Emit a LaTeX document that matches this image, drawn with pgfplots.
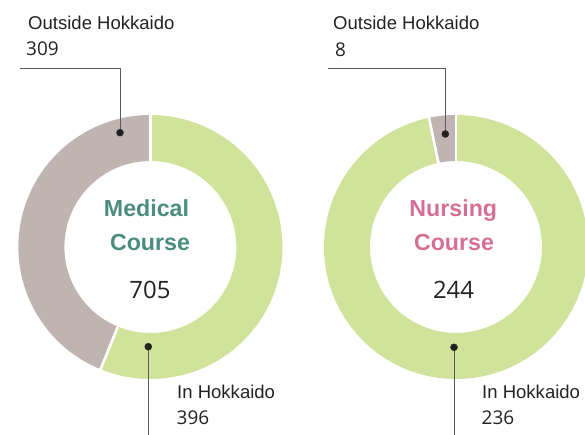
\documentclass[border=0pt]{standalone}
\usepackage{pgfplots}
\pgfplotsset{compat=1.18}
\usetikzlibrary{calc}
\usepackage{fontspec}
\setmainfont{Liberation Sans}
\newfontfamily\labfont{Liberation Sans}
\newfontfamily\numfont{Open Sans}
\definecolor{ringgreen}{HTML}{D1E29B}
\definecolor{ringgray}{HTML}{BFB4B1}
\definecolor{medteal}{HTML}{4A8C80}
\definecolor{nurspink}{HTML}{D56F96}
\definecolor{txt}{HTML}{222222}
\definecolor{leader}{HTML}{5A5A5A}
% data
\def\MedIn{396}\def\MedOut{309}
\def\NurIn{236}\def\NurOut{8}
\pgfmathtruncatemacro\MedTot{\MedIn+\MedOut}
\pgfmathtruncatemacro\NurTot{\NurIn+\NurOut}
\pgfmathsetmacro\MA{90-360*(\MedIn/\MedTot)}
\pgfmathsetmacro\NA{90-360*(\NurIn/\NurTot)}
\newcommand{\ringwedge}[5]{%
  \fill[#5] ($(axis cs:#1,#2)+(#3:132bp)$) arc[start angle=#3, end angle=#4, radius=132bp]
     -- ($(axis cs:#1,#2)+(#4:86bp)$) arc[start angle=#4, end angle=#3, radius=86bp] -- cycle;}
\newcommand{\sep}[3]{%
  \draw[white, line width=2.6bp] ($(axis cs:#1,#2)+(#3:84bp)$) -- ($(axis cs:#1,#2)+(#3:134bp)$);}
\tikzset{titlef/.style={font=\labfont\fontsize{23.3}{23.3}\selectfont\bfseries, inner sep=0, anchor=base},
  bignum/.style={font=\numfont\fontsize{24}{24}\selectfont, text=txt, inner sep=0, anchor=base},
  labf/.style={font=\labfont\fontsize{18.6}{18.6}\selectfont, text=txt, inner sep=0, anchor=base west},
  labnum/.style={font=\numfont\fontsize{19}{19}\selectfont, text=txt, inner sep=0, anchor=base west}}
\begin{document}
\begin{tikzpicture}
\path[use as bounding box] (0,0) rectangle (585bp,435bp);
\clip (0,0) rectangle (585bp,435bp);
\begin{axis}[at={(0,0)}, anchor=south west, scale only axis, width=585bp, height=435bp,
  xmin=0, xmax=585, ymin=0, ymax=435, hide axis, clip=false]
% Medical donut
\ringwedge{150.4}{188}{90}{\MA}{ringgreen}
\ringwedge{150.4}{188}{\MA}{-270}{ringgray}
\sep{150.4}{188}{90}
\sep{150.4}{188}{\MA}
% Nursing donut
\ringwedge{456}{188}{90}{\NA}{ringgreen}
\ringwedge{456}{188}{\NA}{-270}{ringgray}
\sep{456}{188}{90}
\sep{456}{188}{\NA}
% leader lines
\addplot[leader, line width=1bp] coordinates {(120,302.3) (120,366.7) (20,366.7)};
\addplot[leader, line width=1bp] coordinates {(148.3,88.3) (148.3,-5)};
\addplot[leader, line width=1bp] coordinates {(445.3,301) (445.3,366.3) (328.3,366.3)};
\addplot[leader, line width=1bp] coordinates {(454,87.7) (454,-5)};
% dots
\addplot[only marks, mark=*, mark size=3.5bp, txt] coordinates {(120,302.3) (148.3,88.3) (445.3,301) (454,87.7)};
% center texts
\node[titlef, text=medteal] at (axis cs:146.5,218.3) {Medical};
\node[titlef, text=medteal] at (axis cs:150,184) {Course};
\node[bignum] at (axis cs:150,136) {\MedTot};
\node[titlef, text=nurspink] at (axis cs:453.3,218.8) {Nursing};
\node[titlef, text=nurspink] at (axis cs:454,184) {Course};
\node[bignum] at (axis cs:453.5,136) {\NurTot};
% labels
\node[labf] at (axis cs:28,405) {Outside Hokkaido};
\node[labnum] at (axis cs:26,379) {\MedOut};
\node[labf] at (axis cs:333,405) {Outside Hokkaido};
\node[labnum] at (axis cs:335,378.5) {\NurOut};
\node[labf] at (axis cs:177,36.7) {In Hokkaido};
\node[labnum] at (axis cs:176.5,10.5) {\MedIn};
\node[labf] at (axis cs:482,36.7) {In Hokkaido};
\node[labnum] at (axis cs:481.5,11) {\NurIn};
\end{axis}
\end{tikzpicture}
\end{document}
